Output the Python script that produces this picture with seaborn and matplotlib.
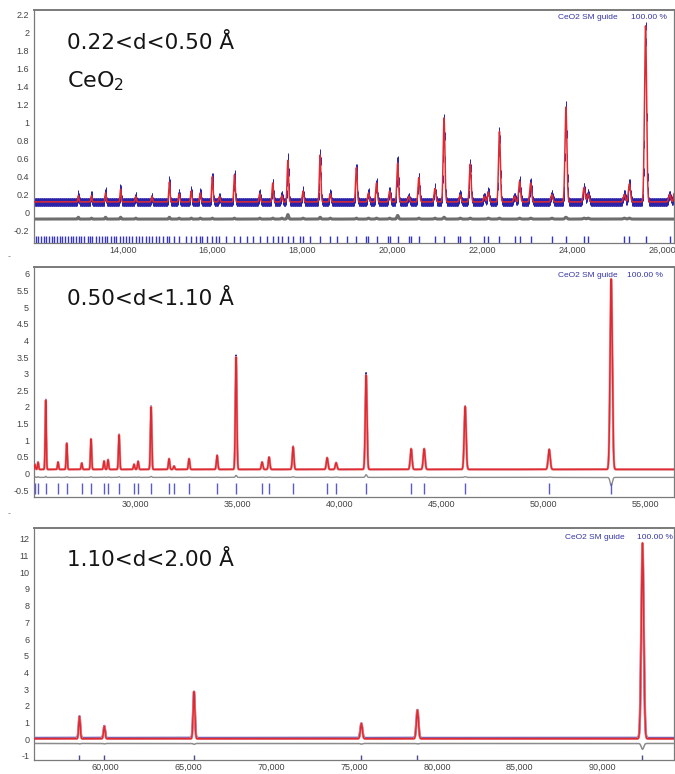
import numpy as np
import matplotlib
matplotlib.use("Agg")
import matplotlib.pyplot as plt
import seaborn as sns
from matplotlib.ticker import FuncFormatter, AutoMinorLocator

# ---------------- bank 1 : 0.22 < d < 0.50 A ----------------
B1_LABEL = "0.22<d<0.50 Å"
B1_PEAK = [13016, 13307, 13621, 13956, 14293, 14651, 15040, 15256, 15525, 15726,
           15995, 16152, 16487, 17048, 17339, 17540, 17675, 18011, 18392, 18616,
           19198, 19467, 19646, 19937, 20116, 20363, 20587, 20946, 21147, 21505,
           21729, 22043, 22132, 22379, 22715, 22827, 23073, 23544, 23857, 24260,
           24350, 25156, 25268, 25627, 26164, 26290]
B1_CALC = [0.19, 0.19, 0.22, 0.26, 0.18, 0.18, 0.34, 0.21, 0.24, 0.22,
           0.40, 0.18, 0.42, 0.21, 0.33, 0.19, 0.58, 0.24, 0.64, 0.21,
           0.50, 0.22, 0.33, 0.24, 0.55, 0.18, 0.39, 0.27, 1.05, 0.20,
           0.54, 0.18, 0.23, 0.90, 0.18, 0.35, 0.33, 0.20, 1.17, 0.28,
           0.21, 0.20, 0.32, 2.07, 0.20, 0.33]
B1_OBS = [0.21, 0.20, 0.24, 0.28, 0.19, 0.18, 0.36, 0.22, 0.25, 0.23,
          0.41, 0.18, 0.43, 0.22, 0.34, 0.20, 0.63, 0.25, 0.66, 0.22,
          0.51, 0.23, 0.34, 0.25, 0.59, 0.18, 0.40, 0.28, 1.07, 0.21,
          0.55, 0.18, 0.24, 0.91, 0.18, 0.36, 0.34, 0.21, 1.19, 0.29,
          0.22, 0.21, 0.33, 2.07, 0.20, 0.33]
B1_REFL = [12070, 12120, 12180, 12250, 12300, 12360, 12430, 12480, 12540, 12610,
           12660, 12720, 12790, 12850, 12900, 12970, 13030, 13080, 13150, 13220,
           13280, 13330, 13400, 13470, 13540, 13600, 13660, 13740, 13800, 13860,
           13940, 14010, 14080, 14150, 14210, 14290, 14360, 14440, 14510, 14580,
           14660, 14740, 14810, 14900, 14980, 15040, 15144, 15256, 15413, 15525,
           15637, 15726, 15771, 15883, 15995, 16084, 16152, 16308, 16487, 16600,
           16756, 16891, 17048, 17204, 17339, 17451, 17540, 17675, 17787, 17944,
           18011, 18168, 18392, 18616, 18773, 18996, 19198, 19422, 19467, 19646,
           19892, 19937, 20116, 20363, 20408, 20587, 20946, 21147, 21461, 21505,
           21729, 22043, 22132, 22379, 22715, 22827, 23073, 23544, 23857, 24260,
           24350, 25156, 25268, 25627, 26164]
B1_XTICKS = [14000, 16000, 18000, 20000, 22000, 24000, 26000]
B1_YTICKS = [-0.2, 0, 0.2, 0.4, 0.6, 0.8, 1, 1.2, 1.4, 1.6, 1.8, 2, 2.2]

# ---------------- bank 2 : 0.50 < d < 1.10 A ----------------
B2_LABEL = "0.50<d<1.10 Å"
B2_PEAK = [25100, 25250, 25624, 26227, 26653, 27388, 27844, 28481, 28677, 29216,
           29951, 30147, 30784, 31666, 31911, 32646, 34018, 34949, 36223, 36566,
           37742, 39408, 39849, 41319, 43524, 44161, 46170, 50286, 53324]
B2_CALC = [0.26, 0.33, 2.20, 0.34, 0.90, 0.31, 1.03, 0.37, 0.41, 1.16,
           0.27, 0.36, 2.00, 0.44, 0.22, 0.44, 0.54, 3.50, 0.34, 0.49,
           0.80, 0.47, 0.32, 2.95, 0.74, 0.74, 2.01, 0.72, 5.85]
B2_OBS = [0.28, 0.35, 2.23, 0.35, 0.92, 0.32, 1.05, 0.38, 0.42, 1.18,
          0.28, 0.37, 2.03, 0.45, 0.22, 0.45, 0.55, 3.56, 0.35, 0.50,
          0.82, 0.48, 0.33, 3.03, 0.75, 0.75, 2.03, 0.73, 5.60]
B2_XTICKS = [30000, 35000, 40000, 45000, 50000, 55000]
B2_YTICKS = [-0.5, 0, 0.5, 1, 1.5, 2, 2.5, 3, 3.5, 4, 4.5, 5, 5.5, 6]

# ---------------- bank 3 : 1.10 < d < 2.00 A ----------------
B3_LABEL = "1.10<d<2.00 Å"
B3_PEAK = [58443, 59940, 65350, 75445, 78826, 92400]
B3_CALC = [1.36, 0.78, 2.85, 0.94, 1.74, 11.75]
B3_OBS = [1.38, 0.80, 2.85, 0.95, 1.76, 11.45]
B3_XTICKS = [60000, 65000, 70000, 75000, 80000, 85000, 90000]
B3_YTICKS = [-1, 0, 1, 2, 3, 4, 5, 6, 7, 8, 9, 10, 11, 12]

PANELS = [
    dict(label=B1_LABEL, pos=B1_PEAK, calc=B1_CALC, obs=B1_OBS, refl=B1_REFL,
         xticks=B1_XTICKS, yticks=B1_YTICKS, xlim=(12030, 26260), ylim=(-0.335, 2.245),
         base=0.12, obs_base=0.12, res=0.0009, diff=-0.07, refl_y=(-0.33, -0.26),
         minor=4, rect=[34 / 675, 531 / 774, 640 / 675, 233 / 774],
         obs_bars=26, obs_lw=1.0, halo_lw=0.0, diff_lw=2.2, diff_c="#6e6e6e",
         refl_c="#3434c8", guide=(0.9125, 0.989, 0.966), cerium=True),
    dict(label=B2_LABEL, pos=B2_PEAK, calc=B2_CALC, obs=B2_OBS, refl=B2_PEAK,
         xticks=B2_XTICKS, yticks=B2_YTICKS, xlim=(25050, 56400), ylim=(-0.71, 6.21),
         base=0.12, obs_base=0.12, res=0.0010, diff=-0.12, refl_y=(-0.62, -0.3),
         minor=5, rect=[34 / 675, 277 / 774, 640 / 675, 230 / 774],
         obs_bars=0, obs_lw=1.0, halo_lw=1.8, diff_lw=1.0, diff_c="#8c8c8c",
         refl_c="#5a5ad0", guide=(0.9125, 0.983, 0.961), cerium=False),
    dict(label=B3_LABEL, pos=B3_PEAK, calc=B3_CALC, obs=B3_OBS, refl=B3_PEAK,
         xticks=B3_XTICKS, yticks=B3_YTICKS, xlim=(55700, 94300), ylim=(-1.24, 12.65),
         base=0.03, obs_base=0.08, res=0.0008, diff=-0.3, refl_y=(-1.22, -0.92),
         minor=5, rect=[34 / 675, 14 / 774, 640 / 675, 232 / 774],
         obs_bars=0, obs_lw=1.6, halo_lw=1.8, diff_lw=1.1, diff_c="#8c8c8c",
         refl_c="#4a4a8c", guide=(0.923, 0.998, 0.957), cerium=False),
]


def profile(x, pos, top, base, res):
    y = np.full(x.shape, base, dtype=float)
    for p, h in zip(pos, top):
        y += (h - base) * np.exp(-0.5 * ((x - p) / (res * p)) ** 2)
    return y


def draw_panel(ax, s):
    x = np.linspace(s["xlim"][0], s["xlim"][1], 12000)
    calc = profile(x, s["pos"], s["calc"], s["base"], s["res"])
    obs = profile(x, s["pos"], s["obs"], s["obs_base"], s["res"])
    diff = obs - calc + s["diff"]

    if s["obs_bars"]:
        # observed points drawn as short vertical markers (error-bar style)
        xs = np.linspace(s["xlim"][0], s["xlim"][1], 1600)
        ys = profile(xs, s["pos"], s["obs"], s["obs_base"], s["res"])
        sns.scatterplot(x=xs, y=ys, ax=ax, color="#2a22a8", s=s["obs_bars"],
                        marker="|", linewidth=0.7, zorder=2)
    else:
        sns.lineplot(x=x, y=obs, ax=ax, color="#2a22a8", lw=s["obs_lw"], estimator=None)
    if s["halo_lw"] > 0:
        sns.lineplot(x=x, y=calc, ax=ax, color="#f0a0a2", lw=s["halo_lw"], estimator=None)
    red = sns.lineplot(x=x, y=calc, ax=ax, color="#e02a32", lw=1.1, estimator=None)
    red.lines[-1].set_zorder(3)
    sns.lineplot(x=x, y=diff, ax=ax, color=s["diff_c"], lw=s["diff_lw"], estimator=None)
    ax.vlines(s["refl"], s["refl_y"][0], s["refl_y"][1], color=s["refl_c"], lw=1.0)

    ax.set_xlim(*s["xlim"])
    ax.set_ylim(*s["ylim"])
    ax.set_xticks(s["xticks"])
    ax.set_yticks(s["yticks"])
    ax.xaxis.set_major_formatter(FuncFormatter(lambda v, p: f"{v:,.0f}"))
    ax.yaxis.set_major_formatter(FuncFormatter(lambda v, p: f"{v:g}"))
    ax.xaxis.set_minor_locator(AutoMinorLocator(s["minor"]))
    ax.tick_params(axis="x", which="major", direction="in", length=3, width=0.8,
                   pad=2, labelsize=6.5, colors="#444444")
    ax.tick_params(axis="x", which="minor", direction="in", length=1.8, width=0.6,
                   colors="#666666")
    ax.tick_params(axis="y", direction="out", length=2, width=0.6, pad=1.5,
                   labelsize=6.5, colors="#444444")
    for lab in ax.get_xticklabels() + ax.get_yticklabels():
        lab.set_family("Liberation Sans")
    ax.set_xlabel("")
    ax.set_ylabel("")
    for side, sp in ax.spines.items():
        sp.set_visible(True)
        sp.set_color("#7a7a7a")
        sp.set_linewidth(1.4 if side == "top" else 0.9)

    ax.text(0.052, 0.86, s["label"], transform=ax.transAxes, fontsize=15.5,
            va="center", ha="left", color="#151515")
    if s["cerium"]:
        ax.text(0.052, 0.694, "CeO$_2$", transform=ax.transAxes, fontsize=16,
                va="center", ha="left", color="#151515")
    gx1, gx2, gy = s["guide"]
    ax.text(gx1, gy, "CeO2 SM guide", transform=ax.transAxes, fontsize=6,
            ha="right", va="center", color="#3535a5", family="Liberation Sans")
    ax.text(gx2, gy, "100.00 %", transform=ax.transAxes, fontsize=6,
            ha="right", va="center", color="#3535a5", family="Liberation Sans")


sns.set_style("white")
plt.rcParams["font.family"] = ["DejaVu Sans"]
fig = plt.figure(figsize=(6.75, 7.74), dpi=100)
for spec in PANELS:
    ax = fig.add_axes(spec["rect"])
    draw_panel(ax, spec)

fig.text(8 / 675, 1 - 259 / 774, "-", color="#888888", fontsize=6)
fig.text(8 / 675, 1 - 516 / 774, "-", color="#888888", fontsize=6)
fig.savefig("out.png", dpi=100)
